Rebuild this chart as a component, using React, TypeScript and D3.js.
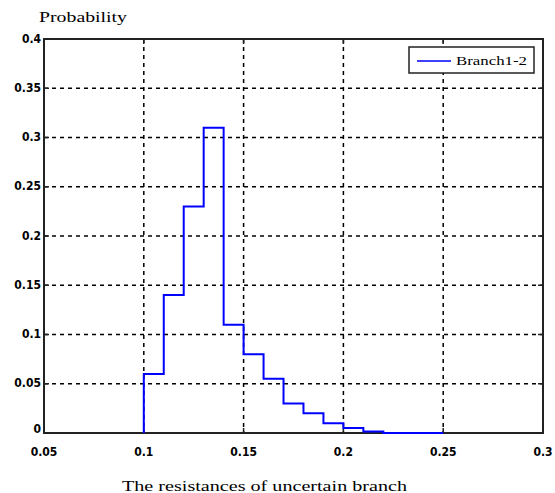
import React, { useEffect, useRef } from 'react'
import * as d3 from 'd3'

// histogram bins (left edges) and probabilities
const binEdges = [0.10, 0.11, 0.12, 0.13, 0.14, 0.15, 0.16, 0.17, 0.18, 0.19, 0.20, 0.21, 0.22, 0.23, 0.24]
const probabilities = [0.06, 0.14, 0.23, 0.31, 0.11, 0.08, 0.055, 0.03, 0.02, 0.01, 0.005, 0.0015, 0, 0, 0]
const binWidth = 0.01

const xTicks = [0.05, 0.1, 0.15, 0.2, 0.25, 0.3]
const yTicks = [0, 0.05, 0.1, 0.15, 0.2, 0.25, 0.3, 0.35, 0.4]
const seriesName = 'Branch1-2'

const width = 555
const height = 493
const margin = { left: 44, right: 12, top: 39, bottom: 60 }

function App() {
    const svgRef = useRef<SVGSVGElement>(null)

    useEffect(() => {
        const svg = d3.select(svgRef.current)
        svg.selectAll('*').remove()

        const x = d3.scaleLinear()
            .domain([0.05, 0.3])
            .range([margin.left, width - margin.right])
        const y = d3.scaleLinear()
            .domain([0, 0.4])
            .range([height - margin.bottom, margin.top])

        const x0 = x.range()[0], x1 = x.range()[1]
        const y0 = y.range()[0], y1 = y.range()[1]

        const tickFont = "'DejaVu Sans Condensed', 'DejaVu Sans', sans-serif"

        // grid
        const grid = svg.append('g')
            .attr('stroke', '#000')
            .attr('stroke-width', 1.5)
            .attr('stroke-dasharray', '4,4')
        grid.selectAll('.gx')
            .data(xTicks.slice(1, -1))
            .enter().append('line')
            .attr('x1', d => x(d)).attr('x2', d => x(d))
            .attr('y1', y1).attr('y2', y0)
        grid.selectAll('.gy')
            .data(yTicks.slice(1, -1))
            .enter().append('line')
            .attr('x1', x0).attr('x2', x1)
            .attr('y1', d => y(d)).attr('y2', d => y(d))

        // box
        svg.append('rect')
            .attr('x', x0).attr('y', y1)
            .attr('width', x1 - x0).attr('height', y0 - y1)
            .attr('fill', 'none')
            .attr('stroke', '#222')
            .attr('stroke-width', 2)

        // inward ticks
        const ticks = svg.append('g').attr('stroke', '#222').attr('stroke-width', 1.5)
        xTicks.forEach(t => {
            ticks.append('line').attr('x1', x(t)).attr('x2', x(t)).attr('y1', y0).attr('y2', y0 - 5)
            ticks.append('line').attr('x1', x(t)).attr('x2', x(t)).attr('y1', y1).attr('y2', y1 + 5)
        })
        yTicks.forEach(t => {
            ticks.append('line').attr('x1', x0).attr('x2', x0 + 5).attr('y1', y(t)).attr('y2', y(t))
            ticks.append('line').attr('x1', x1).attr('x2', x1 - 5).attr('y1', y(t)).attr('y2', y(t))
        })

        // histogram stairs
        const pts: [number, number][] = [[binEdges[0], 0]]
        binEdges.forEach((e, i) => {
            pts.push([e, probabilities[i]])
            pts.push([e + binWidth, probabilities[i]])
        })
        const line = d3.line<[number, number]>()
            .x(d => x(d[0]))
            .y(d => y(d[1]))
        svg.append('path')
            .attr('d', line(pts))
            .attr('fill', 'none')
            .attr('stroke', '#0000ff')
            .attr('stroke-width', 2)

        // tick labels
        svg.selectAll('.xl')
            .data(xTicks)
            .enter().append('text')
            .attr('x', d => x(d))
            .attr('y', y0 + 19)
            .attr('text-anchor', 'middle')
            .attr('dominant-baseline', 'middle')
            .style('font-family', tickFont)
            .style('font-weight', 'bold')
            .style('font-size', '12px')
            .text(d => String(d))
        svg.selectAll('.yl')
            .data(yTicks)
            .enter().append('text')
            .attr('x', x0 - 3)
            .attr('y', d => y(d) + (d === 0 ? -4 : 0))
            .attr('text-anchor', 'end')
            .attr('dominant-baseline', 'middle')
            .style('font-family', tickFont)
            .style('font-weight', 'bold')
            .style('font-size', '12px')
            .text(d => String(d))

        // axis titles
        svg.append('text')
            .attr('x', 39).attr('y', 22)
            .attr('textLength', 88)
            .attr('lengthAdjust', 'spacingAndGlyphs')
            .style('font-family', "'Liberation Serif', serif")
            .style('font-size', '14px')
            .text('Probability')
        svg.append('text')
            .attr('x', 122).attr('y', 491)
            .attr('textLength', 285)
            .attr('lengthAdjust', 'spacingAndGlyphs')
            .style('font-family', "'Liberation Serif', serif")
            .style('font-size', '14px')
            .text('The resistances of uncertain branch')

        // legend
        const lg = svg.append('g')
        lg.append('rect')
            .attr('x', 409).attr('y', 47)
            .attr('width', 125).attr('height', 26)
            .attr('fill', '#fff')
            .attr('stroke', '#222')
            .attr('stroke-width', 1.5)
        lg.append('line')
            .attr('x1', 417).attr('x2', 451)
            .attr('y1', 61).attr('y2', 61)
            .attr('stroke', '#0000ff')
            .attr('stroke-width', 1.5)
        lg.append('text')
            .attr('x', 456).attr('y', 65)
            .attr('textLength', 71)
            .attr('lengthAdjust', 'spacingAndGlyphs')
            .style('font-family', "'Liberation Serif', serif")
            .style('font-size', '13px')
            .text(seriesName)
    }, [])

    return (
        <div style={{ position: 'absolute', left: 0, top: 0 }}>
            <svg ref={svgRef} width={width} height={height} style={{ display: 'block', background: '#fff' }} />
        </div>
    )
}

export default App
